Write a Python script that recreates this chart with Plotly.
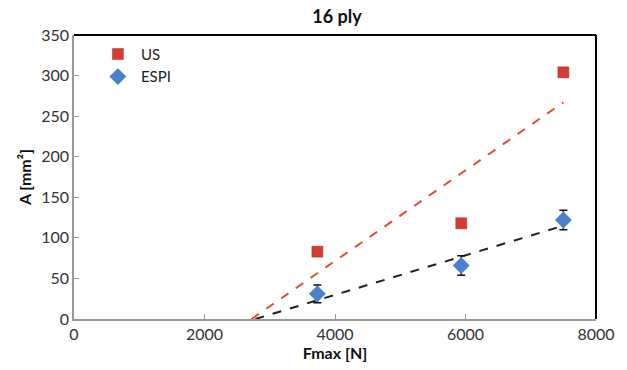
import plotly.graph_objects as go

# Data
fmax = [3730, 5935, 7500]
us_area = [83, 118, 304]
us_err = [3, 4, 5]
espi_area = [31, 66, 122]
espi_err = [11, 12, 12]

us_fit_x = [2720, 7500]
us_fit_y = [0, 267]
espi_fit_x = [2780, 7500]
espi_fit_y = [0, 115]

x_ticks = [0, 2000, 4000, 6000, 8000]
y_ticks = [0, 50, 100, 150, 200, 250, 300, 350]

FONT = "Lato"

fig = go.Figure()

fig.add_trace(go.Scatter(
    x=us_fit_x, y=us_fit_y, mode="lines", showlegend=False,
    line=dict(color="#ec4a32", width=2, dash="dash"), hoverinfo="skip"))
fig.add_trace(go.Scatter(
    x=espi_fit_x, y=espi_fit_y, mode="lines", showlegend=False,
    line=dict(color="#222222", width=2, dash="dash"), hoverinfo="skip"))

fig.add_trace(go.Scatter(
    x=fmax, y=us_area, mode="markers", name="US",
    marker=dict(symbol="square", size=11, color="#d63c36",
                line=dict(color="#a0302c", width=0.5)),
    error_y=dict(type="data", array=us_err, color="#111111", thickness=1.5, width=4)))
fig.add_trace(go.Scatter(
    x=fmax, y=espi_area, mode="markers", name="ESPI",
    marker=dict(symbol="diamond", size=13, color="#4a80cc"),
    error_y=dict(type="data", array=espi_err, color="#111111", thickness=1.5, width=4)))

fig.update_layout(
    width=627, height=370,
    margin=dict(l=74, r=27, t=35, b=50),
    paper_bgcolor="white", plot_bgcolor="white",
    font=dict(family=FONT, size=16, color="#333333"),
    title=dict(text="<b>16 ply</b>", x=337 / 627, xanchor="center",
               y=1 - 17 / 370, yanchor="middle",
               font=dict(family=FONT, size=18, color="#111111")),
    legend=dict(x=0.04, y=0.99, xanchor="left", yanchor="top",
                bgcolor="rgba(0,0,0,0)", font=dict(family=FONT, size=15, color="#222222"),
                itemwidth=36, tracegroupgap=12),
    xaxis=dict(range=[0, 8000], tickvals=x_ticks, ticks="inside", ticklen=5,
               tickcolor="#999999", showline=True, linecolor="#999999", linewidth=1.5,
               showgrid=False, zeroline=False,
               title=dict(text="<b>Fmax [N]</b>", standoff=4,
                          font=dict(family=FONT, size=16, color="#111111"))),
    yaxis=dict(range=[0, 350], tickvals=y_ticks, ticks="inside", ticklen=5,
               tickcolor="#999999", showline=True, linecolor="#999999", linewidth=1.5,
               showgrid=False, zeroline=False,
               title=dict(text="<b>A [mm²]</b>", standoff=6,
                          font=dict(family=FONT, size=16, color="#111111"))),
)

# Top and right black frame
fig.add_shape(type="line", xref="paper", yref="paper", x0=0, x1=1, y0=1, y1=1,
              line=dict(color="#000000", width=2))
fig.add_shape(type="line", xref="paper", yref="paper", x0=1, x1=1, y0=0, y1=1,
              line=dict(color="#000000", width=2))

fig.write_html("out.html")
